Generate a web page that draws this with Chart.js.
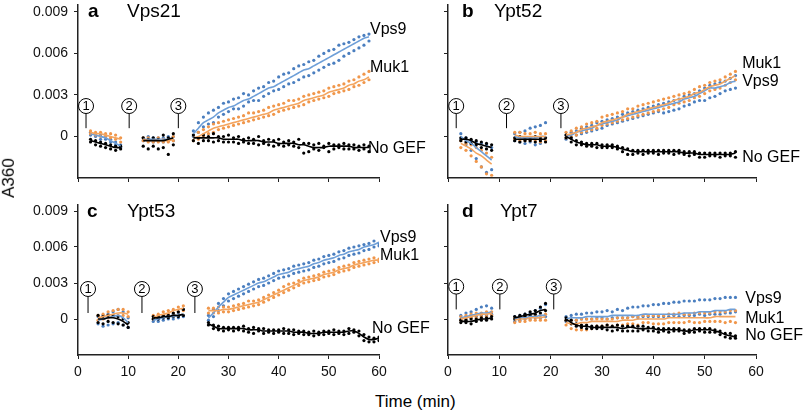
<!DOCTYPE html>
<html>
<head>
<meta charset="utf-8">
<script src="https://cdn.jsdelivr.net/npm/chart.js@4/dist/chart.umd.min.js"></script>
<style>
  body { margin: 0; width: 805px; height: 414px; position: relative; overflow: hidden; background: #fff;
         font-family: "Liberation Sans", Arial, sans-serif; }
  canvas { position: absolute; }
  .axtitle { position: absolute; font-size: 17px; color: #000; white-space: nowrap; }
</style>
</head>
<body>
<canvas id="pa"></canvas>
<canvas id="pb"></canvas>
<canvas id="pc"></canvas>
<canvas id="pd"></canvas>
<div class="axtitle" style="left:375px;top:392px">Time (min)</div>
<div class="axtitle" style="left:-11px;top:168px;transform:rotate(-90deg)">A360</div>
<script>
// Values are typed in units of 1e-4 A360 (so 30 = 0.003)
var U = 0.0001;

var xTicks = [0, 10, 20, 30, 40, 50, 60];
var yTicks = [-0.003, 0, 0.003, 0.006, 0.009];
var yTickLabels = ['', '0', '0.003', '0.006', '0.009'];
var seriesNames = ['Vps9', 'Muk1', 'No GEF'];

// ── a: Vps21 ─────────────────────────────────────────────────────────── //
var tA = [2.5, 3.5, 4.5, 5.5, 6.5, 7.5, 8.5, 13, 14, 15, 16, 17, 18, 19,
  23, 24, 25, 26, 27, 28, 29, 30, 31, 32, 33, 34, 35, 36, 37, 38, 39, 40, 41, 42, 43, 44, 45, 46,
  47, 48, 49, 50, 51, 52, 53, 54, 55, 56, 57, 58];
var aVps9   = [2, 1, 0, -1, -3, -5, -7, -2, -2, -2, -2, -2, -2, -2,
  2, 6, 10, 12, 14, 17, 19, 21, 22, 24, 26, 27, 29, 31, 33, 35, 36, 38, 40, 42, 44, 46, 48, 49, 51, 53, 55, 57, 59, 61, 63, 65, 67, 69, 71, 72];
var aVps9r1 = [3, 2, 1, 0, -2, -4, -6, -1, 0, -1, -1, -1, 0, 0,
  4, 10, 14, 17, 19, 21, 24, 25, 27, 28, 31, 30, 33, 35, 36, 39, 40, 43, 45, 46, 49, 51, 52, 54, 55, 58, 60, 62, 63, 66, 67, 68, 70, 72, 73, 74];
var aVps9r2 = [1, 0, -2, -2, -4, -6, -8, -3, -3, -4, -3, -4, -3, -3,
  0, 3, 7, 9, 10, 14, 16, 18, 20, 20, 22, 25, 26, 26, 29, 31, 33, 34, 36, 38, 39, 41, 43, 44, 46, 48, 50, 52, 53, 55, 58, 60, 62, 64, 66, 69];
var aMuk1   = [3, 2, 2, 1, 0, -1, -2, -2, -3, -3, -3, -3, -3, -2,
  -1, 0, 2, 4, 6, 7, 8, 9, 10, 11, 12, 13, 14, 15, 16, 17, 19, 20, 21, 22, 23, 24, 26, 27, 28, 29, 30, 32, 33, 34, 35, 37, 38, 40, 41, 43];
var aMuk1r1 = [4, 3, 3, 2, 2, 1, -1, -1, -1, -2, -1, -2, -2, 0,
  1, 3, 5, 7, 9, 10, 11, 12, 13, 14, 15, 17, 17, 18, 19, 21, 22, 23, 24, 26, 26, 27, 29, 30, 31, 32, 33, 35, 36, 37, 38, 40, 41, 43, 45, 47];
var aMuk1r2 = [2, 1, 0, 0, -1, -2, -4, -3, -4, -4, -4, -4, -4, -3,
  -3, -2, 0, 2, 3, 5, 6, 7, 8, 9, 10, 11, 12, 13, 14, 15, 16, 18, 19, 20, 21, 22, 23, 25, 26, 27, 28, 29, 31, 32, 33, 34, 36, 37, 39, 41];
var aNoGef   = [-3, -4, -5, -6, -7, -8, -8, -3, -3, -3, -3, -3, -2, -1,
  -1, -1, -1, -1, -1, -1, -2, -2, -2, -2, -3, -3, -3, -3, -4, -4, -4, -5, -5, -5, -5, -6, -6, -7, -8, -8, -8, -7, -7, -7, -7, -7, -8, -8, -8, -8];
var aNoGefr1 = [-2, -3, -4, -5, -6, -7, -7, -1, -2, -1, -2, 1, -1, 2,
  1, -1, 1, 0, 2, 0, 0, 1, -1, 0, -2, -1, -2, 0, -3, -2, -3, -2, -4, -3, -4, -2, -5, -5, -6, -5, -7, -5, -6, -6, -5, -6, -6, -7, -6, -7];
var aNoGefr2 = [-4, -6, -7, -8, -9, -10, -9, -7, -9, -7, -9, -8, -13, -6,
  -3, -5, -3, -3, -4, -3, -4, -4, -4, -5, -4, -5, -5, -6, -5, -6, -7, -6, -7, -6, -7, -8, -12, -11, -9, -10, -8, -11, -9, -8, -9, -9, -9, -10, -9, -11];

// ── b: Ypt52 ─────────────────────────────────────────────────────────── //
var tB = [2.5, 3.5, 4.5, 5.5, 6.5, 7.5, 8.5, 13, 14, 15, 16, 17, 18, 19,
  23, 24, 25, 26, 27, 28, 29, 30, 31, 32, 33, 34, 35, 36, 37, 38, 39, 40, 41, 42, 43, 44, 45, 46,
  47, 48, 49, 50, 51, 52, 53, 54, 55, 56];
var bVps9   = [0, -3, -5, -8, -11, -14, -17, 0, -1, -1, -1, -1, 0, 0,
  0, 1, 3, 4, 5, 6, 8, 9, 10, 11, 12, 14, 15, 16, 17, 18, 19, 20, 21, 22, 23, 24, 25, 27, 28, 29, 31, 33, 35, 35, 36, 37, 39, 40];
var bVps9r1 = [2, -1, -3, -4, -5, -6, -8, 2, 3, 4, 6, 7, 8, 10,
  1, 3, 4, 6, 7, 8, 10, 11, 12, 13, 14, 16, 17, 18, 19, 20, 21, 22, 23, 24, 25, 26, 27, 29, 30, 31, 33, 35, 37, 38, 39, 40, 42, 44];
var bVps9r2 = [-2, -6, -10, -16, -22, -26, -24, -3, -4, -5, -4, -6, -5, -3,
  -2, -1, 1, 2, 3, 4, 5, 6, 8, 9, 10, 11, 12, 13, 14, 15, 16, 17, 18, 17, 18, 19, 20, 22, 23, 25, 26, 26, 28, 29, 31, 33, 34, 35];
var bMuk1   = [-5, -7, -9, -12, -14, -17, -20, 1, 0, 0, 0, 0, 0, 0,
  1, 2, 3, 5, 6, 7, 8, 10, 11, 12, 13, 14, 16, 17, 18, 19, 20, 21, 22, 23, 24, 26, 27, 28, 29, 31, 32, 34, 36, 37, 38, 40, 42, 44];
var bMuk1r1 = [-3, -5, -6, -8, -10, -12, -15, 3, 3, 2, 2, 3, 2, 2,
  3, 4, 6, 7, 9, 10, 11, 14, 15, 16, 17, 18, 20, 20, 22, 23, 24, 25, 26, 27, 28, 29, 30, 31, 32, 34, 36, 37, 39, 40, 41, 43, 45, 47];
var bMuk1r2 = [-8, -10, -14, -18, -22, -27, -28, -2, -3, -3, -3, -3, -4, -3,
  -1, 0, 1, 3, 4, 5, 6, 8, 9, 10, 11, 12, 13, 14, 15, 16, 17, 18, 19, 20, 21, 23, 24, 25, 26, 28, 29, 31, 33, 34, 35, 37, 39, 41];
var bNoGef   = [-2, -2, -3, -5, -6, -7, -8, -2, -2, -2, -2, -2, -2, -2,
  0, -2, -4, -5, -6, -6, -6, -7, -7, -7, -8, -9, -10, -11, -11, -11, -11, -11, -11, -11, -11, -11, -11, -12, -12, -12, -13, -13, -13, -13, -13, -13, -13, -12];
var bNoGefr1 = [-1, -1, -2, -3, -4, -5, -6, -1, 0, -1, -1, 0, -1, -1,
  1, -1, -3, -4, -5, -5, -5, -6, -6, -6, -7, -8, -9, -10, -10, -10, -10, -10, -10, -10, -10, -10, -10, -11, -11, -11, -12, -12, -12, -12, -12, -12, -12, -11];
var bNoGefr2 = [-3, -4, -5, -6, -8, -9, -10, -3, -4, -3, -3, -4, -3, -4,
  -1, -4, -6, -6, -7, -7, -8, -8, -8, -8, -9, -11, -13, -13, -12, -13, -12, -12, -13, -12, -12, -13, -12, -13, -14, -13, -15, -15, -14, -14, -15, -14, -14, -15];

// ── c: Ypt53 ─────────────────────────────────────────────────────────── //
var tC = [4, 5, 6, 7, 8, 9, 10, 15, 16, 17, 18, 19, 20, 21,
  26, 27, 28, 29, 30, 31, 32, 33, 34, 35, 36, 37, 38, 39, 40, 41, 42, 43, 44, 45, 46, 47, 48, 49,
  50, 51, 52, 53, 54, 55, 56, 57, 58, 59, 60];
var cVps9   = [-1, 0, 1, 2, 3, 1, -3, -1, 0, 1, 2, 2, 3, 4,
  1, 5, 10, 14, 18, 20, 22, 24, 26, 28, 30, 31, 33, 35, 37, 38, 39, 41, 42, 43, 44, 46, 47, 49, 50, 51, 53, 54, 56, 57, 58, 60, 61, 62, 64];
var cVps9r1 = [2, 3, 4, 6, 8, 6, 1, 0, 1, 2, 3, 4, 5, 8,
  3, 8, 13, 17, 21, 23, 25, 27, 29, 31, 33, 34, 36, 38, 40, 41, 42, 44, 45, 46, 47, 49, 50, 52, 53, 54, 56, 57, 59, 60, 61, 62, 63, 65, 63];
var cVps9r2 = [-4, -6, -5, -4, -3, -5, -7, -2, -2, -1, 0, 0, 1, 2,
  -1, 2, 7, 11, 15, 17, 19, 21, 23, 25, 27, 28, 30, 32, 34, 35, 36, 38, 39, 40, 41, 43, 44, 46, 47, 48, 50, 51, 53, 54, 55, 57, 58, 60, 61];
var cMuk1   = [1, 2, 3, 4, 5, 5, 4, 1, 3, 4, 5, 7, 8, 9,
  7, 7, 7, 8, 8, 9, 10, 11, 12, 13, 14, 16, 18, 20, 22, 24, 26, 28, 30, 32, 33, 34, 35, 37, 38, 39, 41, 42, 43, 45, 46, 47, 48, 49, 49];
var cMuk1r1 = [3, 4, 6, 7, 8, 8, 6, 3, 4, 6, 7, 8, 10, 11,
  9, 9, 10, 10, 10, 11, 12, 13, 15, 15, 16, 18, 20, 22, 24, 27, 29, 30, 32, 34, 35, 36, 37, 39, 40, 41, 43, 44, 45, 47, 48, 49, 50, 51, 50];
var cMuk1r2 = [-1, 0, 1, 2, 3, 3, 2, 0, 1, 3, 4, 5, 6, 7,
  5, 5, 5, 6, 6, 7, 8, 9, 10, 11, 12, 14, 16, 18, 20, 22, 24, 26, 28, 30, 31, 32, 33, 35, 36, 37, 39, 40, 41, 43, 44, 45, 46, 47, 48];
var cNoGef   = [0, 0, 1, 1, 0, -2, -5, 1, 1, 2, 2, 3, 3, 4,
  -4, -6, -8, -8, -8, -8, -8, -8, -9, -9, -9, -10, -10, -10, -10, -10, -10, -11, -11, -11, -12, -12, -12, -11, -11, -11, -11, -11, -10, -10, -12, -15, -17, -17, -16];
var cNoGefr1 = [3, 2, 3, 3, 2, 0, -3, 2, 2, 3, 3, 5, 6, 8,
  -3, -5, -6, -7, -7, -7, -7, -6, -8, -7, -8, -8, -9, -9, -9, -8, -9, -9, -10, -10, -11, -10, -11, -10, -10, -9, -10, -10, -8, -9, -10, -13, -15, -16, -15];
var cNoGefr2 = [-3, -4, -2, -3, -4, -5, -7, 0, 0, 1, 1, 2, 2, 3,
  -5, -8, -9, -10, -9, -10, -9, -10, -11, -12, -10, -12, -11, -12, -11, -12, -12, -13, -12, -13, -13, -14, -13, -13, -12, -13, -12, -13, -12, -11, -14, -18, -19, -19, -18];

// ── d: Ypt7 ──────────────────────────────────────────────────────────── //
var tD = [2.5, 3.5, 4.5, 5.5, 6.5, 7.5, 8.5, 13, 14, 15, 16, 17, 18, 19,
  23, 24, 25, 26, 27, 28, 29, 30, 31, 32, 33, 34, 35, 36, 37, 38, 39, 40, 41, 42, 43, 44, 45, 46,
  47, 48, 49, 50, 51, 52, 53, 54, 55, 56];
var dVps9   = [1, 2, 3, 4, 5, 5, 6, 0, 1, 1, 2, 2, 3, 3,
  0, 1, 1, 1, 2, 2, 2, 2, 2, 3, 3, 3, 3, 3, 3, 4, 4, 4, 4, 4, 4, 4, 4, 5, 5, 5, 6, 6, 6, 7, 7, 7, 8, 8];
var dVps9r1 = [3, 5, 6, 8, 10, 11, 9, 2, 3, 4, 5, 7, 9, 12,
  2, 3, 4, 4, 5, 5, 6, 6, 7, 6, 8, 7, 9, 10, 10, 11, 11, 12, 12, 13, 13, 14, 14, 15, 15, 15, 16, 16, 16, 17, 17, 18, 18, 18];
var dVps9r2 = [0, 0, 1, 2, 3, 3, 4, -2, -1, 0, 0, 1, 1, 2,
  -2, -1, -1, 0, 0, 0, 1, 1, 0, 1, 1, 1, 1, 2, 1, 2, 2, 2, 2, 2, 2, 3, 2, 3, 3, 3, 4, 3, 4, 4, 4, 5, 5, 6];
var dMuk1   = [0, 1, 2, 3, 4, 4, 5, -1, 0, 0, 1, 1, 1, 2,
  -3, -4, -4, -3, -3, -2, -2, -2, -2, -2, -2, -1, -1, -1, 0, 0, 0, 0, 0, 0, 1, 1, 1, 1, 1, 1, 1, 1, 1, 2, 2, 2, 2, 2];
var dMuk1r1 = [2, 3, 4, 5, 5, 6, 6, 1, 1, 2, 2, 3, 3, 4,
  -1, -1, -1, 0, 0, 0, 0, 0, 0, 0, 1, 1, 1, 2, 2, 3, 3, 3, 3, 3, 4, 4, 5, 4, 4, 5, 5, 5, 5, 6, 6, 6, 7, 7];
var dMuk1r2 = [-1, 0, 1, 1, 2, 2, 3, -3, -2, -2, -1, -1, -1, -1,
  -5, -8, -9, -9, -9, -8, -6, -6, -5, -6, -5, -5, -4, -4, -5, -3, -3, -4, -4, -4, -3, -3, -3, -3, -2, -3, -3, -2, -2, -2, -2, -3, -2, -3];
var dNoGef   = [-2, -2, -2, -1, 0, 0, 1, 1, 2, 3, 4, 5, 7, 8,
  0, -3, -5, -6, -6, -7, -7, -7, -7, -7, -7, -8, -7, -7, -8, -8, -8, -8, -9, -9, -9, -9, -9, -10, -10, -9, -9, -9, -9, -10, -11, -13, -14, -15];
var dNoGefr1 = [-1, -1, 0, 0, 1, 1, 2, 2, 3, 4, 6, 7, 10, 13,
  1, -1, -4, -5, -5, -6, -6, -6, -5, -6, -5, -6, -6, -6, -6, -6, -7, -7, -8, -8, -8, -8, -8, -9, -9, -8, -8, -8, -8, -9, -10, -12, -12, -14];
var dNoGefr2 = [-3, -3, -4, -2, -1, -1, 0, 0, 1, 2, 3, 4, 5, 7,
  -1, -4, -6, -7, -8, -8, -8, -8, -9, -10, -9, -10, -10, -10, -10, -9, -10, -10, -11, -10, -11, -10, -10, -12, -11, -11, -10, -11, -11, -11, -13, -15, -16, -16];

// ── styling / layout ─────────────────────────────────────────────────── //
var FONT = '"Liberation Sans", Arial, sans-serif';
var dotColors  = ['#4a7ebf', '#f0964a', '#000000'];
var lineColors = ['#6e9fd8', '#f4a55f', '#000000'];

var panels = [
  { id: 'pa', letter: 'a', name: 'Vps21', left: 0, top: 0, w: 430, h: 185, yw: 78, padR: 51, xh: 7,
    xLabels: false, yLabels: true, titleDx: [10, 49], t: tA,
    series: [[aVps9, aVps9r1, aVps9r2], [aMuk1, aMuk1r1, aMuk1r2], [aNoGef, aNoGefr1, aNoGefr2]],
    markers: [1.6, 10.2, 20.0], markY: 0.0022, markEnd: 0.0006,
    tags: [[58.2, 0.0077], [58.2, 0.0050], [57.8, -0.0009]] },
  { id: 'pb', letter: 'b', name: 'Ypt52', left: 400, top: 0, w: 405, h: 185, yw: 48, padR: 49, xh: 7,
    xLabels: false, yLabels: false, titleDx: [14, 46], t: tB,
    series: [[bVps9, bVps9r1, bVps9r2], [bMuk1, bMuk1r1, bMuk1r2], [bNoGef, bNoGefr1, bNoGefr2]],
    markers: [1.6, 11.4, 22.0], markY: 0.0022, markEnd: 0.0006,
    tags: [[57.3, 0.0040], [57.3, 0.0053], [57.3, -0.0015]] },
  { id: 'pc', letter: 'c', name: 'Ypt53', left: 0, top: 200, w: 430, h: 185, yw: 78, padR: 51, xh: 30,
    xLabels: true, yLabels: true, titleDx: [9, 49], t: tC,
    series: [[cVps9, cVps9r1, cVps9r2], [cMuk1, cMuk1r1, cMuk1r2], [cNoGef, cNoGefr1, cNoGefr2]],
    markers: [2.0, 12.75, 23.3], markY: 0.0025, markEnd: 0.0005,
    tags: [[60.2, 0.0068], [60.2, 0.0053], [58.6, -0.0008]] },
  { id: 'pd', letter: 'd', name: 'Ypt7', left: 400, top: 200, w: 405, h: 185, yw: 48, padR: 49, xh: 30,
    xLabels: true, yLabels: false, titleDx: [14, 52], t: tD,
    series: [[dVps9, dVps9r1, dVps9r2], [dMuk1, dMuk1r1, dMuk1r2], [dNoGef, dNoGefr1, dNoGefr2]],
    markers: [1.6, 10.1, 20.6], markY: 0.0027, markEnd: 0.0008,
    tags: [[57.9, 0.0017], [57.9, 0.0000], [57.9, -0.0014]] }
];

Chart.defaults.font.family = FONT;
Chart.defaults.color = '#111';

// circled step markers, panel titles, series names
function makeAnnot(p) {
  return {
    id: 'annot' + p.id,
    afterDraw: function (chart) {
      var ctx = chart.ctx, xs = chart.scales.x, ys = chart.scales.y, ca = chart.chartArea;
      ctx.save();
      ctx.fillStyle = '#000';
      ctx.textAlign = 'left';
      ctx.textBaseline = 'alphabetic';
      ctx.font = 'bold 19px ' + FONT;
      ctx.fillText(p.letter, ca.left + p.titleDx[0], ca.top + 12);
      ctx.font = '19px ' + FONT;
      ctx.fillText(p.name, ca.left + p.titleDx[1], ca.top + 12);

      ctx.strokeStyle = '#000';
      ctx.lineWidth = 1;
      p.markers.forEach(function (m, i) {
        var cx = xs.getPixelForValue(m), cy = ys.getPixelForValue(p.markY);
        ctx.beginPath();
        ctx.moveTo(cx, cy + 7.5);
        ctx.lineTo(cx, ys.getPixelForValue(p.markEnd));
        ctx.stroke();
        ctx.beginPath();
        ctx.arc(cx, cy, 7.5, 0, Math.PI * 2);
        ctx.fillStyle = '#fff';
        ctx.fill();
        ctx.stroke();
        ctx.fillStyle = '#000';
        ctx.font = '13px ' + FONT;
        ctx.textAlign = 'center';
        ctx.textBaseline = 'middle';
        ctx.fillText(String(i + 1), cx, cy + 0.5);
      });

      ctx.font = '16px ' + FONT;
      ctx.textAlign = 'left';
      ctx.textBaseline = 'middle';
      seriesNames.forEach(function (n, k) {
        ctx.fillText(n, xs.getPixelForValue(p.tags[k][0]), ys.getPixelForValue(p.tags[k][1]));
      });
      ctx.restore();
    }
  };
}

panels.forEach(function (p) {
  var cv = document.getElementById(p.id);
  cv.width = p.w;
  cv.height = p.h;
  cv.style.left = p.left + 'px';
  cv.style.top = p.top + 'px';

  var datasets = [];
  p.series.forEach(function (s, k) {
    var dots = [];
    p.t.forEach(function (t, i) {
      dots.push({ x: t, y: s[1][i] * U });
      dots.push({ x: t, y: s[2][i] * U });
    });
    datasets.push({
      data: dots, showLine: false, pointRadius: 1.6, pointBorderWidth: 0,
      pointBackgroundColor: dotColors[k], order: 6 - k
    });
    // smoothed trace, broken where the recording pauses
    var trace = [];
    p.t.forEach(function (t, i) {
      if (i > 0 && t - p.t[i - 1] > 2) trace.push({ x: t - 1, y: null });
      trace.push({ x: t, y: s[0][i] * U });
    });
    datasets.push({
      data: trace, borderColor: lineColors[k], borderWidth: 1.6, pointRadius: 0,
      tension: 0.3, spanGaps: false, fill: false, order: 3 - k
    });
  });

  new Chart(cv.getContext('2d'), {
    type: 'line',
    data: { datasets: datasets },
    options: {
      responsive: false,
      animation: false,
      devicePixelRatio: 1,
      layout: { padding: { top: 5, right: p.padR, left: 0, bottom: 0 } },
      plugins: { legend: { display: false }, tooltip: { enabled: false } },
      scales: {
        x: {
          type: 'linear', min: 0, max: 60,
          afterBuildTicks: function (sc) { sc.ticks = xTicks.map(function (v) { return { value: v }; }); },
          afterFit: function (sc) { sc.height = p.xh; sc.paddingLeft = 0; sc.paddingRight = 0; },
          grid: { drawOnChartArea: false, drawTicks: true, tickLength: 4, color: '#222', lineWidth: 1 },
          border: { color: '#222', width: 1.5 },
          ticks: { display: p.xLabels, autoSkip: false, maxRotation: 0, padding: 5, color: '#111', font: { size: 14 } }
        },
        y: {
          type: 'linear', min: -0.003, max: 0.0095,
          afterBuildTicks: function (sc) { sc.ticks = yTicks.map(function (v) { return { value: v }; }); },
          afterFit: function (sc) { sc.width = p.yw; sc.paddingTop = 0; sc.paddingBottom = 0; },
          grid: {
            drawOnChartArea: false, drawTicks: true, tickLength: 4, lineWidth: 1,
            color: function (c) { return c.tick && c.tick.value === -0.003 ? 'rgba(0,0,0,0)' : '#222'; }
          },
          border: { color: '#222', width: 1.5 },
          ticks: {
            display: p.yLabels, autoSkip: false, padding: 6, color: '#111', font: { size: 14 },
            callback: function (v, i) { return yTickLabels[i]; }
          }
        }
      }
    },
    plugins: [makeAnnot(p)]
  });
});
</script>
</body>
</html>
